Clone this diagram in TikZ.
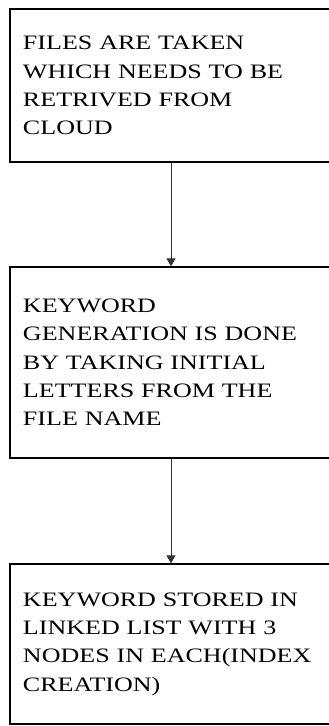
\documentclass[tikz,border=0pt]{standalone}
\usepackage{fontspec}
\newfontfamily\boxfont[FakeStretch=1.27]{Liberation Serif}
\usetikzlibrary{arrows.meta}
\begin{document}
\begin{tikzpicture}[x = 1pt, y = 1pt,
  stage/.style = {draw, line width = 1.3pt, rectangle, minimum width = 340pt,
    text width = 314pt, inner xsep = 13pt, align = left,
    font = \boxfont\fontsize{20.5}{28.3}\selectfont},
  flow/.style = {draw = black!80, line width = 0.9pt,
    -{Triangle[width = 9pt, length = 8pt]}}]
\useasboundingbox (0, 0) rectangle (329, 726);

\node[stage, minimum height = 153pt] (files) at (180, 640.5)
  {FILES ARE TAKEN\\WHICH NEEDS TO BE\\RETRIVED FROM\\CLOUD};
\node[stage, minimum height = 191pt] (keyword) at (180, 363.5)
  {KEYWORD\\GENERATION IS DONE\\BY TAKING INITIAL\\LETTERS FROM THE\\FILE NAME};
\node[stage, minimum height = 160pt] (index) at (180, 82)
  {KEYWORD STORED IN\\LINKED LIST WITH 3\\NODES IN EACH(INDEX\\CREATION)};

\coordinate (col) at (171, 0);
\draw[flow] (files.south -| col) -- (keyword.north -| col);
\draw[flow] (keyword.south -| col) -- (index.north -| col);
\end{tikzpicture}
\end{document}
